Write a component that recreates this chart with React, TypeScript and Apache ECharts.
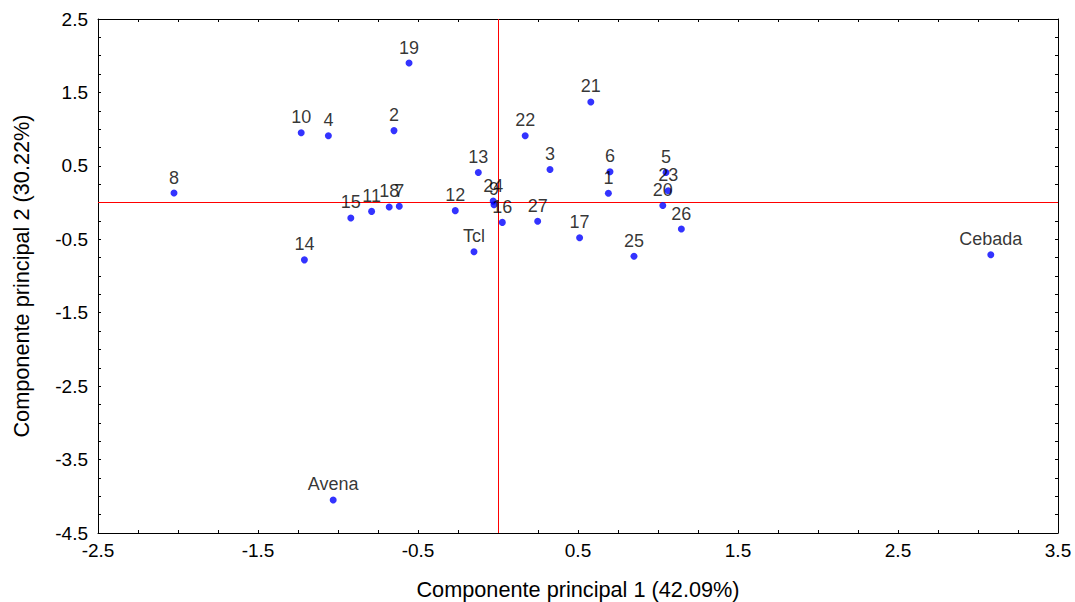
import React, { useEffect, useRef } from "react";
import * as echarts from "echarts";

const labels = ["8","10","4","2","19","14","Avena","15","11","18","7","12","24","9","16","27","13","3","22","21","17","25","6","1","5","23","20","26","Cebada","Tcl"];
const pc1 = [-2.025,-1.23,-1.06,-0.65,-0.556,-1.21,-1.03,-0.92,-0.79,-0.68,-0.617,-0.267,-0.03,-0.025,0.027,0.248,-0.123,0.325,0.17,0.58,0.51,0.85,0.70,0.69,1.05,1.064,1.03,1.146,3.08,-0.15];
const pc2 = [0.13,0.95,0.91,0.98,1.90,-0.78,-4.05,-0.21,-0.12,-0.06,-0.05,-0.11,0.02,-0.03,-0.27,-0.255,0.41,0.45,0.91,1.37,-0.48,-0.73,0.42,0.127,0.41,0.16,-0.04,-0.36,-0.71,-0.67];

const xTitle = "Componente principal 1 (42.09%)";
const yTitle = "Componente principal 2 (30.22%)";

const FONT = "'Liberation Sans', Arial, sans-serif";

function isMajor(v: number) {
  const r = Math.abs((v + 0.5) - Math.round(v + 0.5));
  return r < 1e-6;
}

export default function App() {
  const ref = useRef<HTMLDivElement>(null);
  useEffect(() => {
    const chart = echarts.init(ref.current!, null, { renderer: "svg" });
    const tick = { show: true, inside: true, length: 3, lineStyle: { color: "#000" } };
    const line = { show: true, onZero: false, lineStyle: { color: "#000", width: 1 } };
    const fmt = (v: number) => (isMajor(v) ? String(Number(v.toFixed(2))) : "");
    const red = { color: "#ff0000", width: 1, type: "solid" as const, opacity: 1 };
    chart.setOption({
      animation: false,
      backgroundColor: "#fff",
      grid: { left: 98, top: 19, right: 17, bottom: 69, outerBoundsMode: "none", containLabel: false },
      xAxis: [
        {
          type: "value", min: -2.5, max: 3.5, interval: 0.25,
          axisLine: line, axisTick: tick, splitLine: { show: false },
          axisLabel: { formatter: fmt, margin: 8, fontSize: 19, color: "#000", fontFamily: FONT, showMinLabel: true, showMaxLabel: true },
          name: xTitle, nameLocation: "middle", nameGap: 45,
          nameTextStyle: { fontSize: 21.7, color: "#000", fontFamily: FONT },
        },
        {
          type: "value", position: "top", min: -2.5, max: 3.5, interval: 0.25,
          axisLine: line, axisTick: tick, splitLine: { show: false }, axisLabel: { show: false },
        },
      ],
      yAxis: [
        {
          type: "value", min: -4.5, max: 2.5, interval: 0.25,
          axisLine: line, axisTick: tick, splitLine: { show: false },
          axisLabel: { formatter: fmt, margin: 10, fontSize: 19, color: "#000", fontFamily: FONT, showMinLabel: true, showMaxLabel: true },
          name: yTitle, nameLocation: "middle", nameGap: 66, nameRotate: 90,
          nameTextStyle: { fontSize: 21.7, color: "#000", fontFamily: FONT },
        },
        {
          type: "value", position: "right", min: -4.5, max: 2.5, interval: 0.25,
          axisLine: line, axisTick: tick, splitLine: { show: false }, axisLabel: { show: false },
        },
      ],
      series: [
        {
          type: "scatter",
          symbolSize: 7,
          z: 3,
          itemStyle: { color: "#0000ff" },
          data: pc1.map((x, i) => ({ value: [x, pc2[i]], name: labels[i] })),
          label: {
            show: true, position: "top", distance: 3,
            formatter: (p: any) => p.name,
            fontSize: 18, color: "#000", fontFamily: FONT,
          },
          markLine: {
            silent: true, symbol: ["none", "none"], animation: false, z: 1,
            label: { show: false },
            lineStyle: red,
            emphasis: { disabled: true },
            data: [
              { xAxis: 0, lineStyle: red },
              { yAxis: 0, lineStyle: red },
            ],
          },
        },
      ],
    });
    return () => chart.dispose();
  }, []);
  return <div ref={ref} style={{ width: 1075, height: 602, position: "absolute", left: 0, top: 0 }} />;
}
